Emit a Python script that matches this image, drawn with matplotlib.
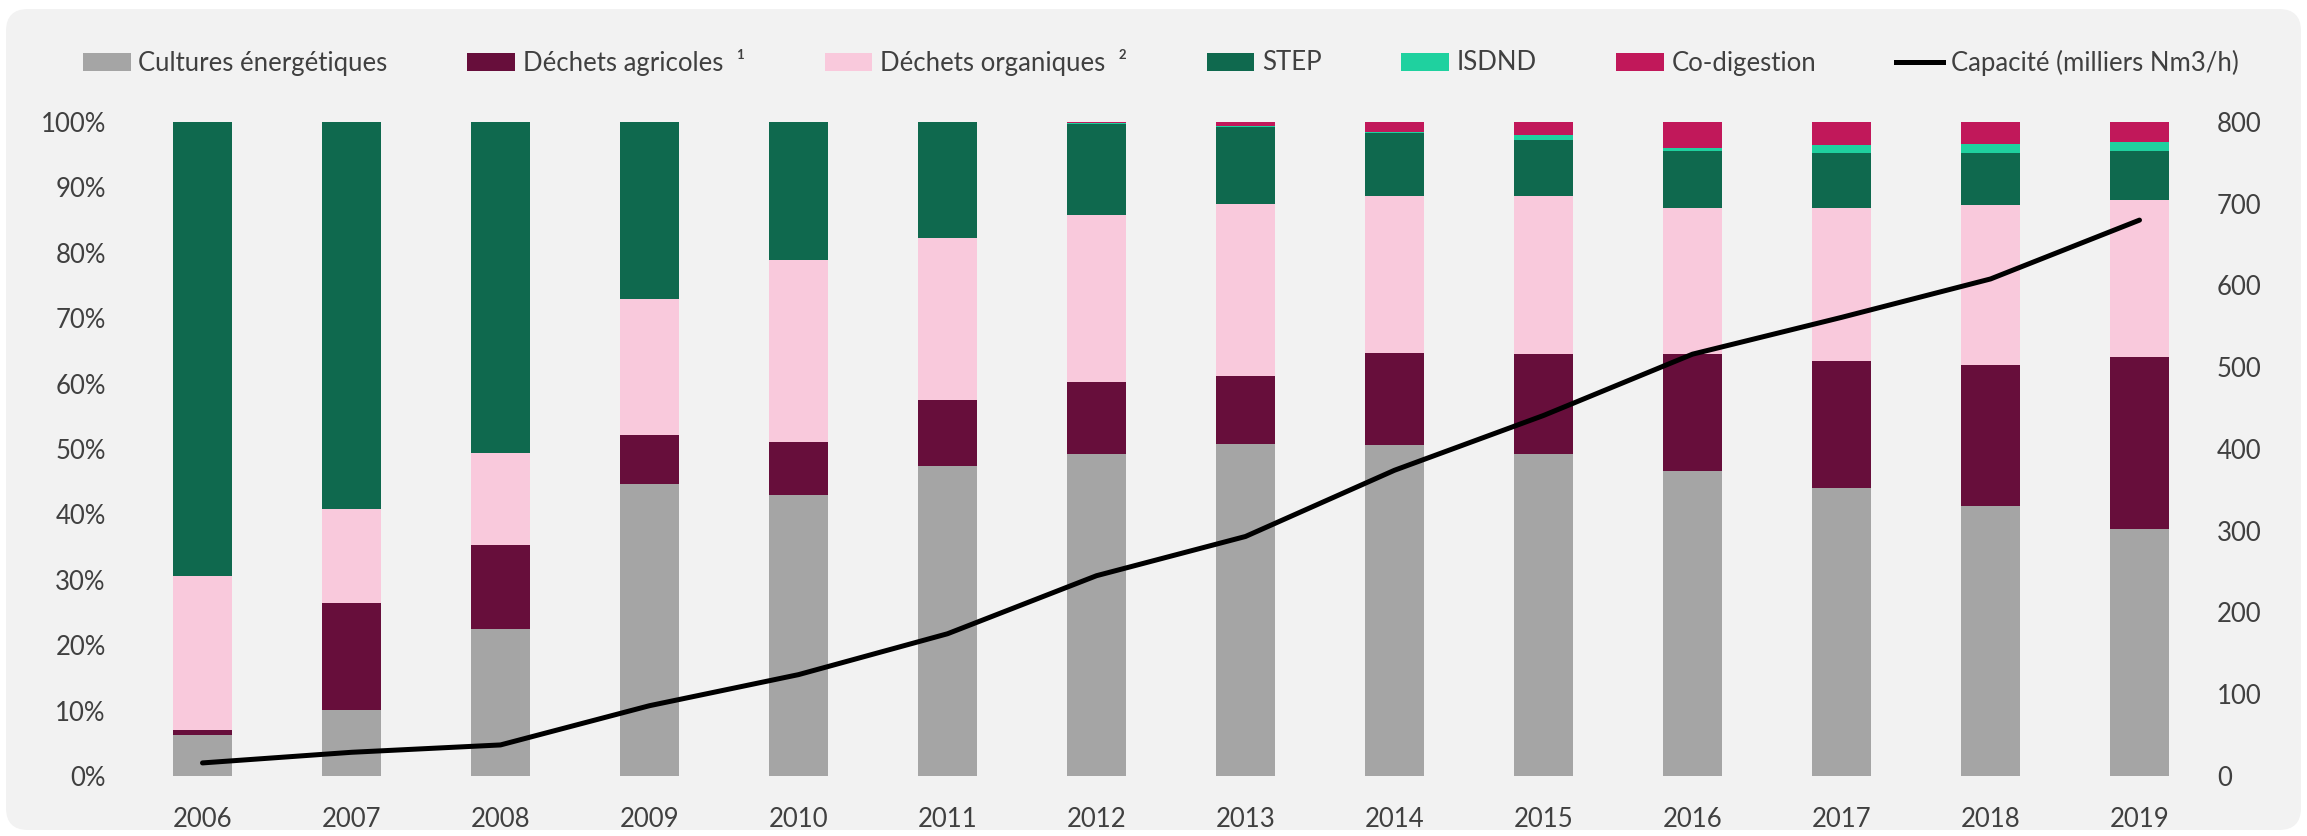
import matplotlib
matplotlib.use("Agg")
import matplotlib.pyplot as plt
import numpy as np
from matplotlib.patches import FancyBboxPatch, Patch
from matplotlib.lines import Line2D
from matplotlib.ticker import FuncFormatter, MultipleLocator

years = ["2006", "2007", "2008", "2009", "2010", "2011", "2012",
         "2013", "2014", "2015", "2016", "2017", "2018", "2019"]
cultures = [6.3, 10.1, 22.5, 44.7, 42.9, 47.4, 49.2, 50.8, 50.6, 49.2, 46.7, 44.0, 41.3, 37.8]
agricoles = [0.7, 16.4, 12.8, 7.4, 8.1, 10.1, 11.0, 10.3, 14.1, 15.3, 17.8, 19.4, 21.6, 26.2]
organiques = [23.6, 14.4, 14.1, 20.9, 27.9, 24.7, 25.6, 26.4, 24.05, 24.25, 22.4, 23.5, 24.4, 24.1]
step = [69.4, 59.1, 50.6, 27.0, 21.1, 17.8, 13.9, 11.75, 9.6, 8.45, 8.6, 8.3, 7.95, 7.4]
isdnd = [0, 0, 0, 0, 0, 0, 0.1, 0.1, 0.1, 0.85, 0.55, 1.25, 1.45, 1.4]
codigestion = [0, 0, 0, 0, 0, 0, 0.2, 0.65, 1.55, 1.95, 3.95, 3.55, 3.3, 3.1]
capacite = [16, 29, 38, 86, 124, 174, 245, 293, 374, 441, 516, 561, 608, 680]

labels = ["Cultures énergétiques", "Déchets agricoles  ¹", "Déchets organiques  ²",
          "STEP", "ISDND", "Co-digestion"]
line_label = "Capacité (milliers Nm3/h)"
colors = ["#a5a5a5", "#670e3b", "#f9c9dc", "#0f694e", "#1fd19f", "#c1185a"]

plt.rcParams['font.family'] = ['Lato', 'DejaVu Sans']
txt = "#404040"

fig = plt.figure(figsize=(23.07, 8.36), dpi=100)
fig.patch.set_facecolor("white")
bg = FancyBboxPatch((6, 6), 2295, 821, boxstyle="round,pad=0,rounding_size=22",
                    transform=None, facecolor="#f2f2f2", edgecolor="none", zorder=-10)
fig.patches.append(bg)

ax = fig.add_axes([128 / 2307, 1 - 776 / 836, (2214 - 128) / 2307, (776 - 122) / 836])
ax.set_facecolor("none")
x = np.arange(len(years))
series = [cultures, agricoles, organiques, step, isdnd, codigestion]
bottom = np.zeros(len(years))
for vals, c, lab in zip(series, colors, labels):
    v = np.array(vals)
    ax.bar(x, v, 0.4, bottom=bottom, color=c, label=lab, zorder=2)
    bottom += v
ax.set_xlim(-0.5, len(years) - 0.5)
ax.set_ylim(0, 100)
ax.yaxis.set_major_locator(MultipleLocator(10))
ax.yaxis.set_major_formatter(FuncFormatter(lambda v, p: f"{int(round(v))}%"))
ax.set_xticks(x)
ax.set_xticklabels(years)
for s in ax.spines.values():
    s.set_visible(False)
ax.tick_params(axis="both", length=0, labelsize=18.5, colors=txt)
ax.tick_params(axis="x", pad=22)
ax.tick_params(axis="y", pad=16)

ax2 = ax.twinx()
ax2.plot(x, capacite, color="black", lw=3.6, solid_capstyle="round", zorder=5)
ax2.set_ylim(0, 800)
ax2.yaxis.set_major_locator(MultipleLocator(100))
for s in ax2.spines.values():
    s.set_visible(False)
ax2.tick_params(axis="y", length=0, labelsize=18.5, colors=txt, pad=2)

handles = [Patch(facecolor=c, edgecolor="none") for c in colors]
handles.append(Line2D([0], [0], color="black", lw=3.6))
fig.legend(handles, labels + [line_label], loc="center", ncol=7,
           bbox_to_anchor=(1161 / 2307, 1 - 62 / 836), frameon=False,
           fontsize=18.5, labelcolor=txt, handlelength=1.85, handleheight=0.7,
           handletextpad=0.3, columnspacing=3.1)

fig.savefig("out.png", dpi=100, facecolor="white")
